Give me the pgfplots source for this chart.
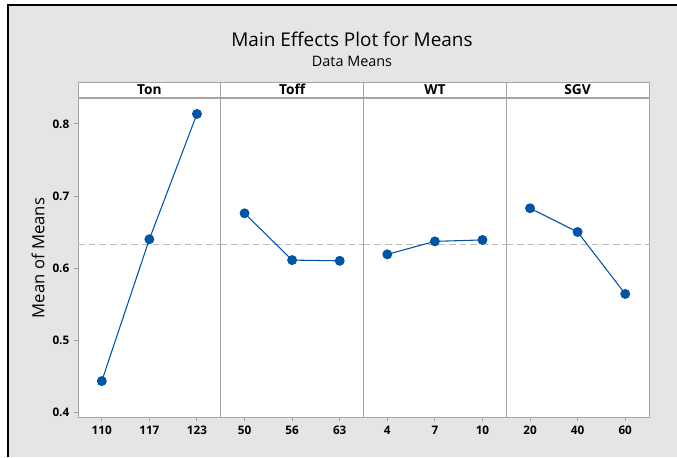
\documentclass[border=0pt]{standalone}
\usepackage{fontspec}
\setmainfont{Open Sans}
\usepackage{pgfplots}
\pgfplotsset{compat=1.18}
\definecolor{figgray}{RGB}{229,229,229}
\definecolor{axgray}{RGB}{165,165,165}
\definecolor{refgray}{RGB}{185,185,185}
\definecolor{meanblue}{RGB}{0,84,166}

\tikzset{
  strip/.style={draw=axgray, line width=0.75pt, fill=white, anchor=south,
    minimum width=107.0625pt, minimum height=11.25pt, inner sep=0pt,
    text height=7.4pt, text depth=0pt, font=\bfseries\fontsize{10.3}{11}\selectfont},
}
\pgfplotsset{
  panel/.style={
    anchor=south west,
    scale only axis, clip=false,
    width=107.0625pt, height=239.25pt,
    xmin=0.5, xmax=3.5, ymin=0.3931, ymax=0.8361,
    xtick={1,2,3},
    axis background/.style={fill=white},
    axis line style={axgray, line width=0.75pt},
    tick style={axgray, line width=0.75pt},
    tick align=outside, major tick length=3pt,
    xtick pos=lower, ytick pos=left,
    ytick=\empty,
    ticklabel style={font=\bfseries\fontsize{8.8}{10}\selectfont, text=black},
  },
  means/.style={meanblue, line width=0.8pt, mark=*, mark size=3.3pt,
    mark options={fill=meanblue, draw=meanblue, solid}},
  refline/.style={refgray, line width=0.9pt, dash pattern=on 5pt off 3pt, forget plot},
}

\begin{document}
\begin{tikzpicture}
\useasboundingbox (0,0) rectangle (507.75pt,-342.75pt);
\fill[figgray] (6pt,-3.75pt) rectangle (507.75pt,-342.75pt);
\draw[black, line width=2pt] (6pt,-342.75pt) -- (6pt,-3.75pt) -- (507.75pt,-3.75pt);

\node[font=\fontsize{14.2}{16}\selectfont] at (264pt,-29.5pt) {Main Effects Plot for Means};
\node[font=\fontsize{10.8}{12}\selectfont] at (264pt,-46pt) {Data Means};
\node[rotate=90, font=\fontsize{12.5}{14}\selectfont] at (28.5pt,-193.5pt) {Mean of Means};

% Ton
\begin{axis}[panel, at={(58.5pt,-312.75pt)},
  ytick={0.4,0.5,0.6,0.7,0.8}, yticklabels={0.4,0.5,0.6,0.7,0.8},
  xticklabels={110,117,123}]
\addplot[refline] coordinates {(0.5,0.6324) (3.5,0.6324)};
\addplot[means] coordinates {(1,0.443) (2,0.640) (3,0.814)};
\node[strip] at (rel axis cs:0.5,1) {Ton};
\end{axis}

% Toff
\begin{axis}[panel, at={(165.5625pt,-312.75pt)},
  xticklabels={50,56,63}]
\addplot[refline] coordinates {(0.5,0.6324) (3.5,0.6324)};
\addplot[means] coordinates {(1,0.676) (2,0.611) (3,0.610)};
\node[strip] at (rel axis cs:0.5,1) {Toff};
\end{axis}

% WT
\begin{axis}[panel, at={(272.625pt,-312.75pt)},
  xticklabels={4,7,10}]
\addplot[refline] coordinates {(0.5,0.6324) (3.5,0.6324)};
\addplot[means] coordinates {(1,0.619) (2,0.637) (3,0.639)};
\node[strip] at (rel axis cs:0.5,1) {WT};
\end{axis}

% SGV
\begin{axis}[panel, at={(379.6875pt,-312.75pt)},
  xticklabels={20,40,60}]
\addplot[refline] coordinates {(0.5,0.6324) (3.5,0.6324)};
\addplot[means] coordinates {(1,0.683) (2,0.650) (3,0.564)};
\node[strip] at (rel axis cs:0.5,1) {SGV};
\end{axis}
\end{tikzpicture}
\end{document}
